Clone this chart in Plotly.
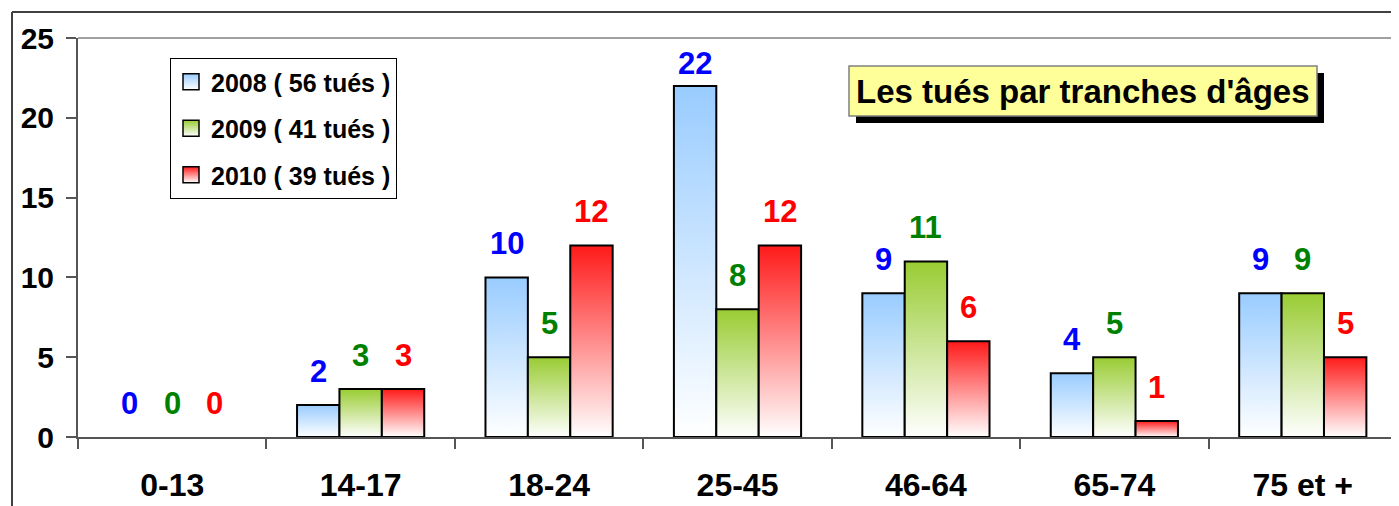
import plotly.graph_objects as go

# ---- data ----
categories = ["0-13", "14-17", "18-24", "25-45", "46-64", "65-74", "75 et +"]
v2008 = [0, 2, 10, 22, 9, 4, 9]
v2009 = [0, 3, 5, 8, 11, 5, 9]
v2010 = [0, 3, 12, 12, 6, 1, 5]
series_names = ["2008 ( 56 tués )", "2009 ( 41 tués )", "2010 ( 39 tués )"]
y_ticks = [0, 5, 10, 15, 20, 25]
title_text = "Les tués par tranches d'âges"

# ---- styles ----
FONT = "Arial, Liberation Sans, sans-serif"
top_colors = ["#99CCFF", "#99CC33", "#FF1A1A"]
bottom_colors = ["#FFFFFF", "#FFFFFF", "#FFFFFF"]
label_colors = ["#0000FF", "#008000", "#FF0000"]
BAR_W = 0.225
offsets = [-0.3375, -0.1125, 0.1125]

# geometry: the page body adds an 8px margin around the figure
OFF = 8
W, H = 1399 - OFF, 506 - OFF
L, R, T, B = 78 - OFF, 2, 38 - OFF, 69
PW, PH = W - L - R, H - T - B


def px_x(px):  # page pixel -> paper coordinate
    return (px - OFF - L) / PW


def px_y(py):
    return (H - B - (py - OFF)) / PH


fig = go.Figure()
xs = list(range(len(categories)))
all_series = [v2008, v2009, v2010]

# bar traces (base geometry)
for k, vals in enumerate(all_series):
    fig.add_trace(go.Bar(
        x=xs, y=vals, name=series_names[k],
        width=BAR_W, offset=offsets[k],
        marker=dict(color=top_colors[k], line=dict(width=0)),
        showlegend=False,
    ))

# gradient overlays for each bar
for k, vals in enumerate(all_series):
    for i, v in enumerate(vals):
        if v <= 0:
            continue
        x0 = xs[i] + offsets[k]
        x1 = x0 + BAR_W
        fig.add_trace(go.Scatter(
            x=[x0, x0, x1, x1, x0], y=[0, v, v, 0, 0],
            mode="lines", fill="toself",
            fillgradient=dict(type="vertical",
                              colorscale=[[0, bottom_colors[k]], [1, top_colors[k]]]),
            line=dict(color="black", width=2),
            showlegend=False, hoverinfo="skip",
        ))

# legend entries (gradient squares)
for k in range(3):
    fig.add_trace(go.Scatter(
        x=[None], y=[None], mode="markers", name=series_names[k],
        legendgroup=str(k),
        marker=dict(symbol="square", size=16, color=top_colors[k],
                    gradient=dict(type="vertical", color="white"),
                    line=dict(color="black", width=1.5)),
    ))

# value labels (lowered when close to the top of the plot, as in the original)
annotations = []
for k, vals in enumerate(all_series):
    for i, v in enumerate(vals):
        annotations.append(dict(
            x=xs[i] + offsets[k] + BAR_W / 2, y=v, xref="x", yref="y",
            text=str(v), showarrow=False, yanchor="bottom",
            yshift=14 if v < 20 else 3,
            font=dict(family=FONT, size=31, color=label_colors[k], weight="bold"),
        ))

# title box text
annotations.append(dict(
    x=px_x(1083), y=px_y(91), xref="paper", yref="paper",
    text=title_text, showarrow=False, xanchor="center", yanchor="middle",
    font=dict(family=FONT, size=33, color="black", weight="bold"),
))

shapes = [
    # title shadow and box
    dict(type="rect", xref="paper", yref="paper",
         x0=px_x(856), x1=px_x(1324), y0=px_y(123), y1=px_y(73),
         fillcolor="black", line=dict(width=0)),
    dict(type="rect", xref="paper", yref="paper",
         x0=px_x(849), x1=px_x(1317), y0=px_y(116), y1=px_y(66),
         fillcolor="#FFFF99", line=dict(color="#808080", width=1.5)),
    # plot-area top and right border
    dict(type="line", xref="paper", yref="paper", x0=0, x1=1, y0=1, y1=1,
         line=dict(color="#A0A0A0", width=2), layer="below"),
    dict(type="line", xref="paper", yref="paper", x0=1, x1=1, y0=0, y1=1,
         line=dict(color="#A0A0A0", width=2), layer="below"),
    # outer chart frame
    dict(type="line", xref="paper", yref="paper",
         x0=px_x(12), x1=px_x(12), y0=px_y(12), y1=px_y(510),
         line=dict(color="#404040", width=2)),
    dict(type="line", xref="paper", yref="paper",
         x0=px_x(12), x1=px_x(1400), y0=px_y(12), y1=px_y(12),
         line=dict(color="#404040", width=2)),
]

fig.update_layout(
    width=W, height=H,
    margin=dict(l=L, r=R, t=T, b=B, autoexpand=False),
    plot_bgcolor="white", paper_bgcolor="white",
    barmode="overlay",
    showlegend=True,
    legend=dict(
        x=px_x(170), y=px_y(58), xanchor="left", yanchor="top",
        bgcolor="white", bordercolor="black", borderwidth=1,
        font=dict(family=FONT, size=25, color="black", weight="bold"),
        tracegroupgap=11,
    ),
    annotations=annotations,
    shapes=shapes,
    font=dict(family=FONT),
)

fig.update_xaxes(
    range=[-0.5, len(categories) - 0.5], automargin=False,
    tickmode="array", tickvals=xs, ticktext=categories,
    ticks="", showgrid=False, zeroline=False,
    showline=True, linecolor="#555555", linewidth=2,
    tickfont=dict(family=FONT, size=32, color="black", weight="bold"),
    ticklabelstandoff=19,
    minor=dict(tickmode="array",
               tickvals=[i - 0.5 for i in range(len(categories) + 1)],
               ticks="outside", ticklen=10, tickcolor="#555555", tickwidth=1.5,
               showgrid=False),
)
fig.update_yaxes(
    range=[0, 25], tickmode="array", tickvals=y_ticks, automargin=False,
    ticks="outside", ticklen=10, tickcolor="#555555", tickwidth=1.5,
    showgrid=False, zeroline=False,
    showline=True, linecolor="#555555", linewidth=2,
    tickfont=dict(family=FONT, size=30, color="black", weight="bold"),
    ticklabelstandoff=6,
)

fig.write_html("out.html")
